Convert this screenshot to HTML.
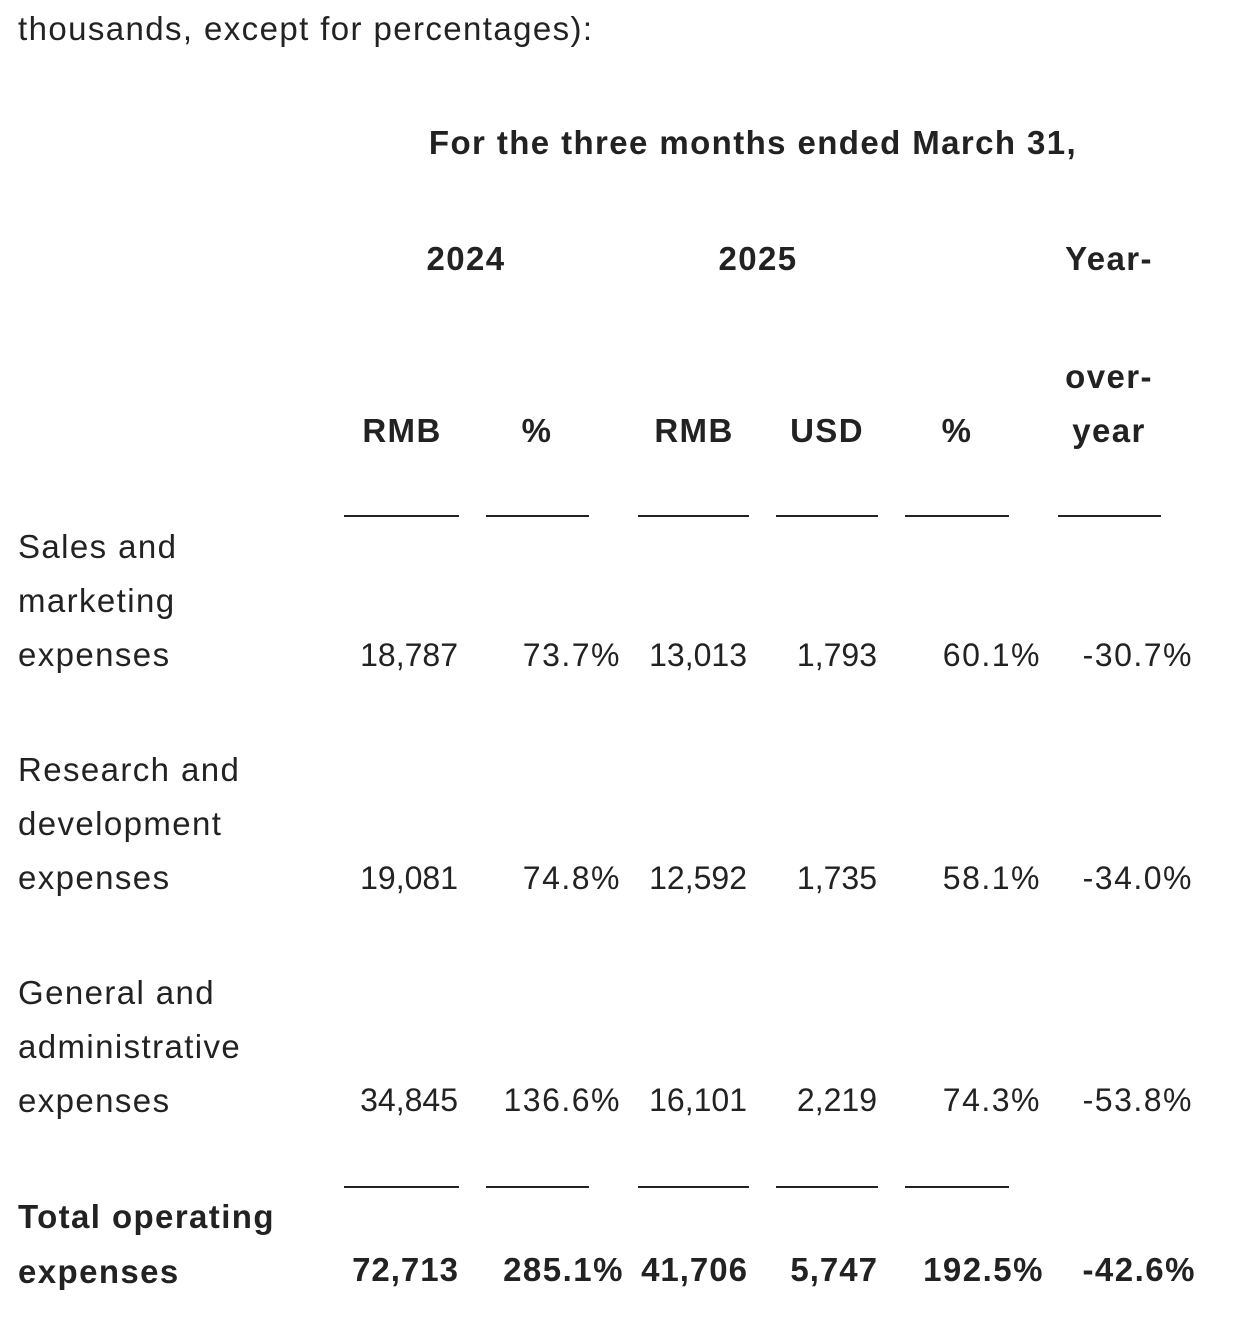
<!DOCTYPE html>
<html><head><meta charset="utf-8"><style>
body{margin:0;width:1234px;height:1326px;background:#fff;position:relative;overflow:hidden;font-family:"Liberation Sans",Arial,sans-serif;color:#222;font-size:33px}
.t{position:absolute;line-height:40px;height:40px;white-space:nowrap}
.w{letter-spacing:1.4px}
.n{font-size:32px}
.p{letter-spacing:1.5px}
.bn{letter-spacing:1px}
.b{font-weight:bold}
.c{transform:translateX(-50%)}
.r{transform:translateX(-100%)}
.l{position:absolute;height:2px;background:#222}
</style></head><body>
<div class="t w" style="left:18px;top:9px">thousands, except for percentages):</div>
<div class="t b c w" style="left:753px;top:123px">For the three months ended March 31,</div>
<div class="t b c w" style="left:466px;top:239px">2024</div>
<div class="t b c w" style="left:758px;top:239px">2025</div>
<div class="t b c w" style="left:1109px;top:239px">Year-</div>
<div class="t b c w" style="left:1109px;top:357px">over-</div>
<div class="t b c w" style="left:402px;top:411px">RMB</div>
<div class="t b c w" style="left:537px;top:411px">%</div>
<div class="t b c w" style="left:694px;top:411px">RMB</div>
<div class="t b c w" style="left:827px;top:411px">USD</div>
<div class="t b c w" style="left:957px;top:411px">%</div>
<div class="t b c w" style="left:1109px;top:411px">year</div>
<div class="l" style="left:344px;width:115px;top:515px"></div>
<div class="l" style="left:486px;width:103px;top:515px"></div>
<div class="l" style="left:638px;width:111px;top:515px"></div>
<div class="l" style="left:776px;width:102px;top:515px"></div>
<div class="l" style="left:905px;width:104px;top:515px"></div>
<div class="l" style="left:1058px;width:103px;top:515px"></div>

<div class="t w" style="left:18px;top:527px">Sales and</div>
<div class="t w" style="left:18px;top:581px">marketing</div>
<div class="t w" style="left:18px;top:635px">expenses</div>
<div class="t r n" style="left:458px;top:635px">18,787</div>
<div class="t r n p" style="left:621px;top:635px">73.7%</div>
<div class="t r n" style="left:747px;top:635px">13,013</div>
<div class="t r n" style="left:877px;top:635px">1,793</div>
<div class="t r n p" style="left:1041px;top:635px">60.1%</div>
<div class="t r n p" style="left:1193px;top:635px">-30.7%</div>

<div class="t w" style="left:18px;top:750px">Research and</div>
<div class="t w" style="left:18px;top:804px">development</div>
<div class="t w" style="left:18px;top:858px">expenses</div>
<div class="t r n" style="left:458px;top:858px">19,081</div>
<div class="t r n p" style="left:621px;top:858px">74.8%</div>
<div class="t r n" style="left:747px;top:858px">12,592</div>
<div class="t r n" style="left:877px;top:858px">1,735</div>
<div class="t r n p" style="left:1041px;top:858px">58.1%</div>
<div class="t r n p" style="left:1193px;top:858px">-34.0%</div>

<div class="t w" style="left:18px;top:973px">General and</div>
<div class="t w" style="left:18px;top:1027px">administrative</div>
<div class="t w" style="left:18px;top:1081px">expenses</div>
<div class="t r n" style="left:458px;top:1080px">34,845</div>
<div class="t r n p" style="left:621px;top:1080px">136.6%</div>
<div class="t r n" style="left:747px;top:1080px">16,101</div>
<div class="t r n" style="left:877px;top:1080px">2,219</div>
<div class="t r n p" style="left:1041px;top:1080px">74.3%</div>
<div class="t r n p" style="left:1193px;top:1080px">-53.8%</div>

<div class="l" style="left:344px;width:115px;top:1186px"></div>
<div class="l" style="left:486px;width:103px;top:1186px"></div>
<div class="l" style="left:638px;width:111px;top:1186px"></div>
<div class="l" style="left:776px;width:102px;top:1186px"></div>
<div class="l" style="left:905px;width:104px;top:1186px"></div>

<div class="t b w" style="left:18px;top:1197px">Total operating</div>
<div class="t b w" style="left:18px;top:1252px">expenses</div>
<div class="t b r bn" style="left:459px;top:1250px">72,713</div>
<div class="t b r p" style="left:624px;top:1250px">285.1%</div>
<div class="t b r bn" style="left:748px;top:1250px">41,706</div>
<div class="t b r bn" style="left:878px;top:1250px">5,747</div>
<div class="t b r p" style="left:1044px;top:1250px">192.5%</div>
<div class="t b r p" style="left:1196px;top:1250px">-42.6%</div>
</body></html>
